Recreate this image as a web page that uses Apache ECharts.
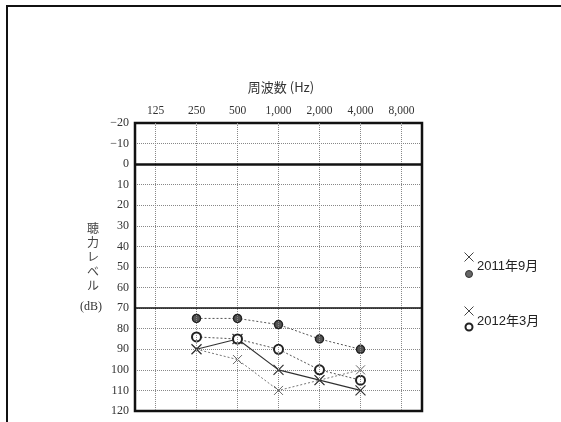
<!DOCTYPE html>
<html><head><meta charset="utf-8">
<script src="https://cdn.jsdelivr.net/npm/echarts@6/dist/echarts.min.js"></script>
<style>html,body{margin:0;padding:0;background:#fff}#c{width:561px;height:422px}</style>
</head><body><div id="c"></div>
<script>
const freqs = ['125','250','500','1,000','2,000','4,000','8,000'];
const yTickLabels = ['−20','−10','0','10','20','30','40','50','60','70','80','90','100','110','120'];
const circle2011 = [null,75,75,78,85,90,null];
const cross2011 = [null,90,95,110,105,100,null];
const circle2012 = [null,84,85,90,100,105,null];
const cross2012 = [null,90,85,100,105,110,null];
const legendNames = ['2011年9月','2012年3月'];

const serif = "'Liberation Serif','DejaVu Serif',serif";
const cjk = "'Noto Sans CJK JP','Noto Sans',sans-serif";
const legendFont = "'Liberation Sans','Noto Sans CJK JP',sans-serif";
const crossPath = 'path://M0,0L10,10M10,0L0,10';

function cross(cx, cy, h){
  return [
    {type:'line', shape:{x1:cx-h, y1:cy-h, x2:cx+h, y2:cy+h}, style:{stroke:'#444', lineWidth:1}},
    {type:'line', shape:{x1:cx+h, y1:cy-h, x2:cx-h, y2:cy+h}, style:{stroke:'#444', lineWidth:1}}
  ];
}

const chart = echarts.init(document.getElementById('c'), null, {renderer:'canvas'});
chart.setOption({
  animation:false,
  backgroundColor:'#fff',
  title:{text:'周波数 (Hz)', left:276, top:76, textAlign:'center',
    textStyle:{fontFamily:cjk, fontSize:13, fontWeight:'normal', color:'#333'}},
  grid:{left:135, top:123, width:287, height:288, show:true, borderColor:'#111', borderWidth:2.5, backgroundColor:'transparent', z:5},
  xAxis:{type:'category', data:freqs, position:'top', boundaryGap:true,
    axisLine:{show:false}, axisTick:{show:false}, splitLine:{show:false},
    axisLabel:{margin:6, fontFamily:serif, fontSize:11.5, color:'#333'}},
  yAxis:{type:'value', inverse:true, min:-20, max:120, interval:10,
    axisLine:{show:false}, axisTick:{show:false},
    axisLabel:{margin:6, fontFamily:serif, fontSize:12, color:'#333',
      formatter:v=>yTickLabels[Math.round((v+20)/10)]},
    splitLine:{show:true, lineStyle:{color:'#888', width:1, type:[1,1]}}},
  series:[
    {type:'line', data:circle2011, symbol:'circle', symbolSize:8, z:4,
      lineStyle:{color:'#555', width:1, type:[2,2]},
      itemStyle:{color:'#555', borderColor:'#222', borderWidth:1.5},
      markLine:{silent:true, symbol:'none', label:{show:false}, animation:false,
        data:[
          ...freqs.map(f=>({xAxis:f, lineStyle:{color:'#888', width:1, type:[1,1]}})),
          {yAxis:0, lineStyle:{color:'#111', width:2.5, type:'solid'}},
          {yAxis:70, lineStyle:{color:'#111', width:1.5, type:'solid'}}
        ]}},
    {type:'line', data:cross2011, symbol:crossPath, symbolSize:9, z:3,
      lineStyle:{color:'#777', width:1, type:[2,2]},
      itemStyle:{color:'rgba(0,0,0,0)', borderColor:'#666', borderWidth:1}},
    {type:'line', data:circle2012, symbol:'circle', symbolSize:9, z:4,
      lineStyle:{color:'#555', width:1, type:[2,2]},
      itemStyle:{color:'#fff', borderColor:'#222', borderWidth:2}},
    {type:'line', data:cross2012, symbol:crossPath, symbolSize:10, z:3,
      lineStyle:{color:'#333', width:1.2, type:'solid'},
      itemStyle:{color:'rgba(0,0,0,0)', borderColor:'#333', borderWidth:1.2}}
  ],
  graphic:[
    {type:'rect', shape:{x:7, y:6, width:700, height:600}, style:{fill:'none', stroke:'#111', lineWidth:2}, silent:true},
    {type:'text', x:93, y:221, style:{text:'聴\n力\nレ\nベ\nル', font:"12px "+cjk, lineHeight:14.3, align:'center', verticalAlign:'top', fill:'#444'}},
    {type:'text', x:91, y:307, style:{text:'(dB)', font:"12px "+serif, align:'center', verticalAlign:'middle', fill:'#333'}},
    ...cross(469, 257, 4.5),
    {type:'circle', shape:{cx:469, cy:274, r:3.5}, style:{fill:'#666', stroke:'#333', lineWidth:1}},
    {type:'text', x:477, y:266, style:{text:legendNames[0], font:"13px "+legendFont, verticalAlign:'middle', fill:'#222'}},
    ...cross(469, 311, 4.5),
    {type:'circle', shape:{cx:469, cy:327, r:3.5}, style:{fill:'#fff', stroke:'#222', lineWidth:2}},
    {type:'text', x:477, y:321, style:{text:legendNames[1], font:"13px "+legendFont, verticalAlign:'middle', fill:'#222'}}
  ]
});
</script></body></html>
